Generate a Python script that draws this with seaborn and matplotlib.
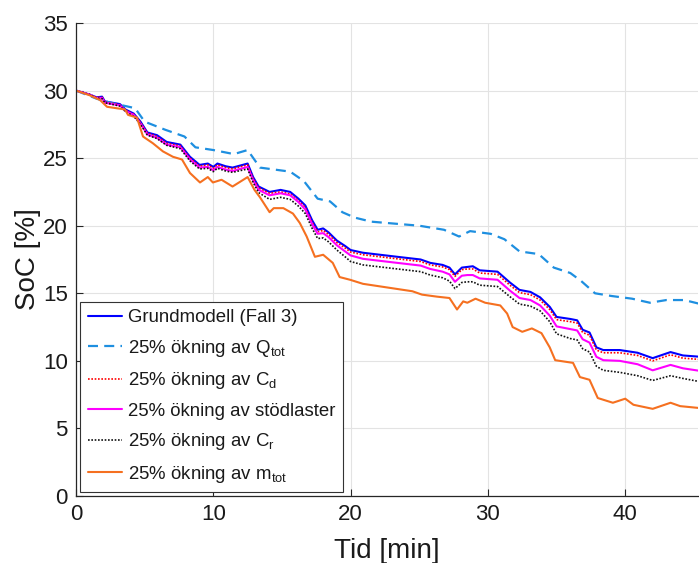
import matplotlib
matplotlib.use("Agg")
import matplotlib.pyplot as plt
import seaborn as sns
import numpy as np
import pandas as pd

# ---------------- data ----------------
t_base = [0.0, 1.0, 1.5, 1.9, 2.1, 3.2, 3.6, 4.2, 4.7, 5.2, 5.9, 6.6, 7.6, 8.3, 9.0, 9.6,
          10.0, 10.3, 10.9, 11.4, 12.5, 12.9, 13.3, 14.1, 14.9, 15.6, 16.2, 16.7, 17.2,
          17.6, 18.0, 18.4, 19.0, 19.6, 20.0, 20.9, 23.4, 25.1, 25.8, 26.7, 27.2, 27.6,
          28.1, 28.5, 28.9, 29.4, 30.7, 31.6, 32.3, 33.1, 33.8, 34.5, 35.0, 36.0, 36.5,
          36.9, 37.4, 37.9, 38.4, 39.6, 40.9, 42.0, 43.3, 44.2, 45.5]

soc_grund = [30.0, 29.7, 29.5, 29.55, 29.2, 29.0, 28.6, 28.3, 27.7, 26.9, 26.7, 26.2, 26.0,
             25.1, 24.5, 24.6, 24.35, 24.6, 24.4, 24.3, 24.6, 23.6, 22.9, 22.5, 22.65, 22.5,
             22.0, 21.5, 20.4, 19.7, 19.8, 19.5, 18.9, 18.5, 18.2, 18.0, 17.7, 17.5, 17.25,
             17.1, 16.9, 16.4, 16.9, 16.95, 17.0, 16.7, 16.6, 15.8, 15.25, 15.1, 14.7, 14.0,
             13.25, 13.1, 13.0, 12.3, 12.1, 11.0, 10.8, 10.8, 10.6, 10.2, 10.65, 10.4, 10.3]

soc_cd = [30.0, 29.7, 29.5, 29.5, 29.15, 28.95, 28.55, 28.25, 27.65, 26.85, 26.6, 26.1, 25.9,
          25.0, 24.4, 24.5, 24.25, 24.5, 24.3, 24.2, 24.5, 23.5, 22.8, 22.4, 22.5, 22.35,
          21.85, 21.35, 20.25, 19.55, 19.65, 19.35, 18.75, 18.35, 18.05, 17.85, 17.55, 17.35,
          17.1, 16.95, 16.75, 16.25, 16.75, 16.8, 16.8, 16.5, 16.4, 15.6, 15.05, 14.9, 14.5,
          13.8, 13.05, 12.9, 12.8, 12.1, 11.9, 10.8, 10.6, 10.6, 10.4, 10.0, 10.45, 10.2, 10.1]

soc_stod = [30.0, 29.7, 29.45, 29.45, 29.1, 28.9, 28.5, 28.2, 27.55, 26.75, 26.5, 26.0, 25.8,
            24.9, 24.3, 24.35, 24.1, 24.35, 24.15, 24.05, 24.35, 23.35, 22.65, 22.25, 22.4,
            22.25, 21.75, 21.2, 20.1, 19.4, 19.45, 19.15, 18.55, 18.1, 17.8, 17.55, 17.25,
            17.05, 16.8, 16.6, 16.4, 15.85, 16.3, 16.35, 16.35, 16.1, 16.0, 15.2, 14.65, 14.5,
            14.1, 13.35, 12.55, 12.35, 12.25, 11.6, 11.35, 10.3, 10.05, 10.0, 9.75, 9.3, 9.7,
            9.45, 9.25]

soc_cr = [30.0, 29.7, 29.45, 29.4, 29.1, 28.85, 28.45, 28.1, 27.5, 26.7, 26.45, 25.95, 25.7,
          24.8, 24.2, 24.25, 24.0, 24.25, 24.05, 23.95, 24.2, 23.2, 22.45, 21.95, 22.1, 21.95,
          21.45, 20.9, 19.8, 19.05, 19.1, 18.8, 18.2, 17.7, 17.35, 17.1, 16.8, 16.6, 16.35,
          16.15, 15.9, 15.35, 15.8, 15.85, 15.85, 15.6, 15.5, 14.75, 14.2, 14.05, 13.7, 12.9,
          12.0, 11.65, 11.55, 10.9, 10.65, 9.6, 9.3, 9.15, 8.9, 8.55, 8.9, 8.7, 8.45]

t_qtot = [0.0, 1.5, 2.5, 4.3, 5.0, 6.5, 7.9, 8.7, 10.0, 11.5, 12.5, 13.4, 15.6, 16.6, 17.6,
          18.5, 19.4, 20.3, 21.5, 25.0, 26.8, 27.9, 28.7, 30.2, 31.2, 32.3, 33.7, 34.8, 36.0,
          36.8, 37.8, 39.0, 40.5, 41.8, 43.0, 44.3, 45.5]
soc_qtot = [30.0, 29.4, 29.1, 28.7, 27.7, 27.1, 26.6, 25.8, 25.6, 25.3, 25.6, 24.3, 24.0,
            23.3, 22.0, 21.8, 21.0, 20.6, 20.3, 20.0, 19.7, 19.2, 19.6, 19.4, 19.0, 18.1,
            17.9, 16.9, 16.5, 15.9, 15.0, 14.8, 14.6, 14.3, 14.5, 14.5, 14.2]

t_mtot = [0.0, 1.0, 1.75, 2.26, 3.57, 3.79, 4.44, 4.88, 5.6, 6.33, 7.06, 7.72, 8.3, 9.03, 9.6,
          9.97, 10.6, 11.4, 12.5, 13.0, 13.4, 14.1, 14.4, 15.1, 15.8, 16.3, 16.8, 17.4, 18.0,
          18.7, 19.2, 19.96, 20.9, 24.5, 25.2, 26.3, 27.2, 27.75, 28.2, 28.5, 29.1, 29.8,
          30.9, 31.4, 31.8, 32.5, 33.2, 33.9, 34.5, 34.9, 36.2, 36.7, 37.4, 38.0, 39.1, 40.0,
          40.6, 42.0, 43.3, 44.0, 45.5]
soc_mtot = [30.0, 29.65, 29.3, 28.8, 28.6, 28.2, 28.0, 26.6, 26.1, 25.5, 25.1, 24.9, 23.9,
            23.2, 23.6, 23.2, 23.4, 22.9, 23.6, 22.65, 22.1, 21.0, 21.3, 21.3, 20.9, 20.2,
            19.2, 17.7, 17.85, 17.25, 16.2, 16.0, 15.7, 15.15, 14.9, 14.75, 14.65, 13.8, 14.4,
            14.3, 14.6, 14.3, 14.1, 13.5, 12.5, 12.15, 12.4, 12.05, 11.0, 10.05, 9.85, 8.8,
            8.6, 7.25, 6.9, 7.2, 6.75, 6.45, 6.9, 6.65, 6.5]

labels = ["Grundmodell (Fall 3)",
          "25% ökning av Q$_{\\mathregular{tot}}$",
          "25% ökning av C$_{\\mathregular{d}}$",
          "25% ökning av stödlaster",
          "25% ökning av C$_{\\mathregular{r}}$",
          "25% ökning av m$_{\\mathregular{tot}}$"]
x_ticks = [0, 10, 20, 30, 40]
y_ticks = [0, 5, 10, 15, 20, 25, 30, 35]

# ---------------- style ----------------
sns.set_theme(style="whitegrid")
plt.rcParams["font.family"] = ["Liberation Sans", "DejaVu Sans"]
plt.rcParams["mathtext.fontset"] = "custom"
plt.rcParams["mathtext.rm"] = "Liberation Sans"
plt.rcParams["mathtext.it"] = "Liberation Sans"

W, H = 699, 563
fig = plt.figure(figsize=(W / 100, H / 100), dpi=100)
L, R, T, B = 76, 698, 23, 496
ax = fig.add_axes([L / W, (H - B) / H, (R - L) / W, (B - T) / H])
ax.set_facecolor("white")

series = [
    (t_base, soc_grund, labels[0], "#0000FF", "-", 1.5),
    (t_qtot, soc_qtot, labels[1], "#1E8FE0", (0, (4.5, 2.8)), 1.6),
    (t_base, soc_cd, labels[2], "#FF0000", (0, (1, 1)), 1.2),
    (t_base, soc_stod, labels[3], "#FF00FF", "-", 1.5),
    (t_base, soc_cr, labels[4], "#111111", (0, (1, 1)), 1.2),
    (t_mtot, soc_mtot, labels[5], "#F57020", "-", 1.5),
]
for tx, vy, lab, col, ls, lw in series:
    df = pd.DataFrame({"t": tx, "soc": vy})
    sns.lineplot(data=df, x="t", y="soc", ax=ax, color=col, linestyle=ls,
                 linewidth=lw, label=lab, sort=False, estimator=None)

ax.set_xlim(0, 45.3)
ax.set_ylim(0, 35)
ax.set_xticks(x_ticks)
ax.set_yticks(y_ticks)
ax.grid(True, color="#E3E3E3", linewidth=0.8)
for s in ["top", "right"]:
    ax.spines[s].set_visible(False)
for s in ["left", "bottom"]:
    ax.spines[s].set_color("#262626")
    ax.spines[s].set_linewidth(0.9)
ax.tick_params(axis="both", direction="in", length=5, width=0.8, color="#262626",
               labelsize=16, labelcolor="#1a1a1a", left=True, bottom=True, pad=6)

ax.set_xlabel("Tid [min]", fontsize=20, color="#1a1a1a")
ax.set_ylabel("SoC [%]", fontsize=20, color="#1a1a1a")
ax.xaxis.set_label_coords(0.5, -0.088)
ax.yaxis.set_label_coords(-0.057, 0.5)

leg = ax.legend(loc="lower left", bbox_to_anchor=(0.007, 0.008), borderaxespad=0,
                fontsize=13.4, frameon=True, fancybox=False, framealpha=1,
                edgecolor="#333333", handlelength=1.85, handletextpad=0.3,
                labelspacing=0.62, borderpad=0.4)
leg.get_frame().set_linewidth(0.8)
for txt in leg.get_texts():
    txt.set_color("#1a1a1a")

fig.savefig("out.png", dpi=100)
